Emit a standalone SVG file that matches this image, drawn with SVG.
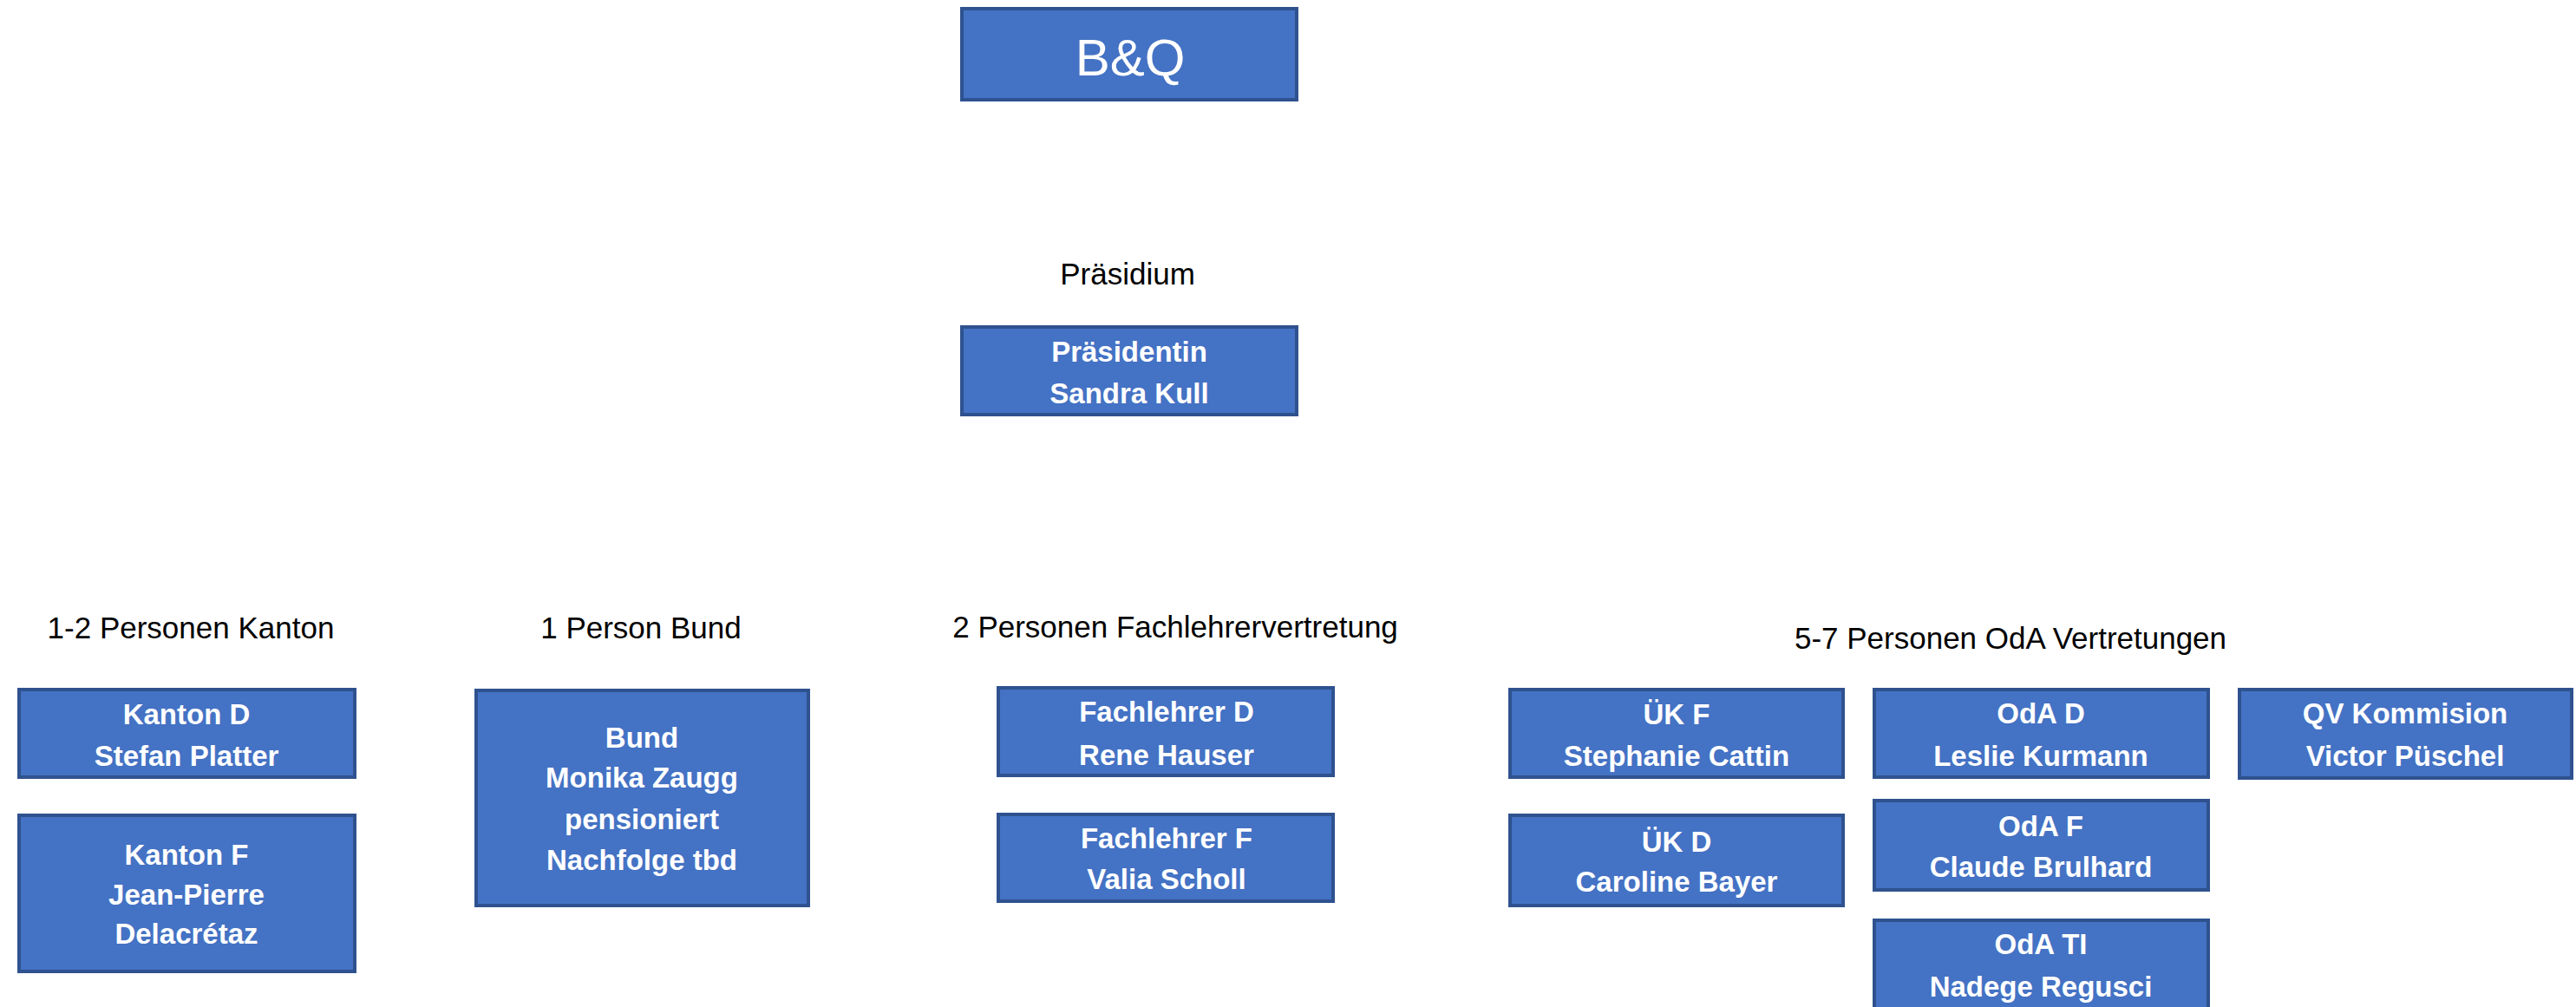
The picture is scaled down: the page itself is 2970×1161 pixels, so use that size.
<svg xmlns="http://www.w3.org/2000/svg" width="2970" height="1161" viewBox="0 0 2970 1161">
<style>
.box{fill:#4472C4;stroke:#2F528F;stroke-width:4}
.t{font-family:"Liberation Sans",Arial,sans-serif;font-weight:bold;font-size:33px;fill:#FFFFFF;text-anchor:middle}
.lbl{font-family:"Liberation Sans",Arial,sans-serif;font-size:35px;fill:#000000;text-anchor:middle}
</style>
<rect width="2970" height="1161" fill="#FFFFFF"/>
<g id="connectors"></g>
<g id="bq">
<rect class="box" x="1109" y="10" width="386" height="105"/>
<text x="1303" y="87" font-family="Liberation Sans, Arial, sans-serif" font-size="60" fill="#FFFFFF" text-anchor="middle">B&amp;Q</text>
</g>
<g id="label-praesidium"><text class="lbl" x="1300" y="328">Präsidium</text></g>
<g id="praesidentin">
<rect class="box" x="1109" y="377" width="386" height="101"/>
<text class="t" x="1302" y="417">Präsidentin</text>
<text class="t" x="1302" y="465">Sandra Kull</text>
</g>
<g id="label-kanton"><text class="lbl" x="220" y="736">1-2 Personen Kanton</text></g>
<g id="kanton-d">
<rect class="box" x="22" y="795" width="387" height="101"/>
<text class="t" x="215" y="835" font-size="34">Kanton D</text>
<text class="t" x="215" y="883" font-size="34">Stefan Platter</text>
</g>
<g id="kanton-f">
<rect class="box" x="22" y="940" width="387" height="180"/>
<text class="t" x="215" y="997" font-size="34">Kanton F</text>
<text class="t" x="215" y="1043" font-size="34">Jean-Pierre</text>
<text class="t" x="215" y="1088" font-size="34">Delacrétaz</text>
</g>
<g id="label-bund"><text class="lbl" x="739" y="736">1 Person Bund</text></g>
<g id="bund">
<rect class="box" x="549" y="796" width="383" height="248"/>
<text class="t" x="740" y="862">Bund</text>
<text class="t" x="740" y="908">Monika Zaugg</text>
<text class="t" x="740" y="956">pensioniert</text>
<text class="t" x="740" y="1003">Nachfolge tbd</text>
</g>
<g id="label-fachlehrer"><text class="lbl" x="1355" y="735" font-size="36">2 Personen Fachlehrervertretung</text></g>
<g id="fachlehrer-d">
<rect class="box" x="1151" y="793" width="386" height="101"/>
<text class="t" x="1345" y="832">Fachlehrer D</text>
<text class="t" x="1345" y="882">Rene Hauser</text>
</g>
<g id="fachlehrer-f">
<rect class="box" x="1151" y="939" width="386" height="100"/>
<text class="t" x="1345" y="978">Fachlehrer F</text>
<text class="t" x="1345" y="1025">Valia Scholl</text>
</g>
<g id="label-oda"><text class="lbl" x="2318" y="748" font-size="36">5-7 Personen OdA Vertretungen</text></g>
<g id="uek-f">
<rect class="box" x="1741" y="795" width="384" height="101"/>
<text class="t" x="1933" y="835">ÜK F</text>
<text class="t" x="1933" y="883">Stephanie Cattin</text>
</g>
<g id="uek-d">
<rect class="box" x="1741" y="940" width="384" height="104"/>
<text class="t" x="1933" y="982">ÜK D</text>
<text class="t" x="1933" y="1028">Caroline Bayer</text>
</g>
<g id="oda-d">
<rect class="box" x="2161" y="795" width="385" height="101"/>
<text class="t" x="2353" y="834">OdA D</text>
<text class="t" x="2353" y="883">Leslie Kurmann</text>
</g>
<g id="oda-f">
<rect class="box" x="2161" y="923" width="385" height="103"/>
<text class="t" x="2353" y="964">OdA F</text>
<text class="t" x="2353" y="1011">Claude Brulhard</text>
</g>
<g id="oda-ti">
<rect class="box" x="2161" y="1061" width="385" height="110"/>
<text class="t" x="2353" y="1100">OdA TI</text>
<text class="t" x="2353" y="1149">Nadege Regusci</text>
</g>
<g id="qv">
<rect class="box" x="2582" y="795" width="383" height="102"/>
<text class="t" x="2773" y="834">QV Kommision</text>
<text class="t" x="2773" y="883">Victor Püschel</text>
</g>
</svg>
